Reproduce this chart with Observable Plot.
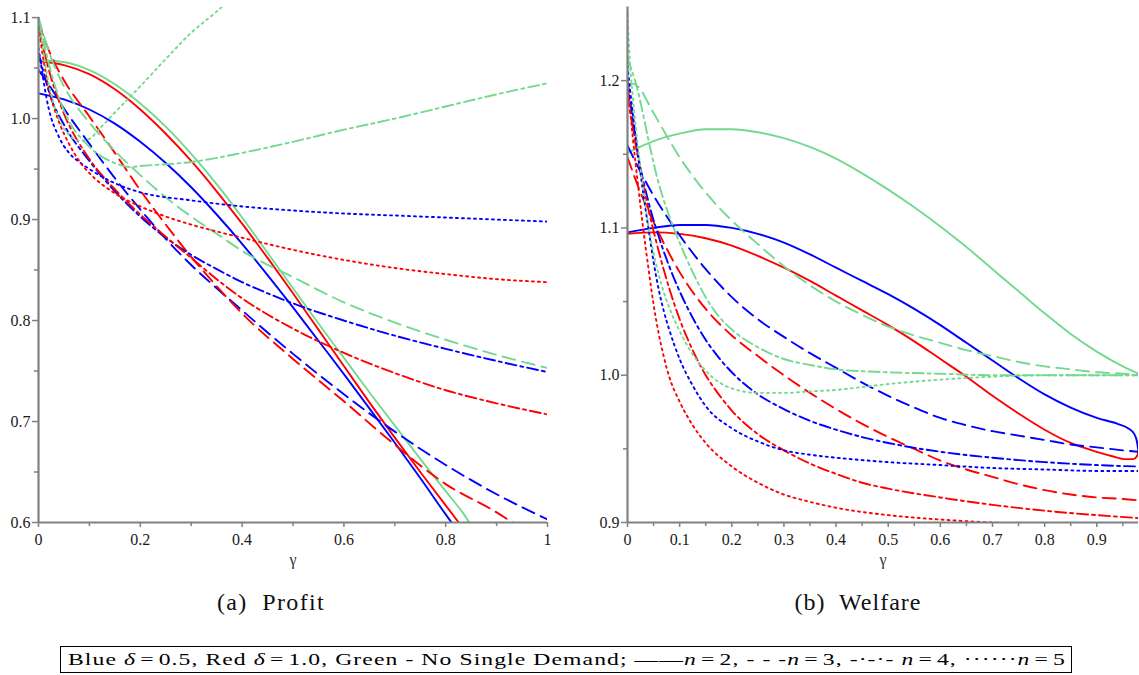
<!DOCTYPE html>
<html><head><meta charset="utf-8">
<script src="https://cdn.jsdelivr.net/npm/d3@7"></script>
<script src="https://cdn.jsdelivr.net/npm/@observablehq/plot@0.6"></script>
<style>
body{margin:0;background:#fff;width:1139px;height:675px;position:relative;overflow:hidden;font-family:"Liberation Serif",serif;}
#left{position:absolute;left:0;top:0}
#right{position:absolute;left:580px;top:0}
.cap{position:absolute;top:589px;font-size:24px;transform:translateX(-50%);white-space:nowrap;color:#111}
#legend{position:absolute;left:60px;top:646px;width:1010px;height:25px;border:1px solid #000;line-height:25px;white-space:nowrap;color:#000}
#legendText{position:absolute;left:7px;top:0;font-size:17.5px;letter-spacing:0.8px;transform-origin:0 50%}
.eq{margin:0 3px}
svg g[aria-label$="tick label"] text{font-size:16px}
</style></head><body>
<div id="left"></div><div id="right"></div>
<div class="cap" id="capA" style="left:271px">(a)&nbsp; Profit</div>
<div class="cap" id="capB" style="left:858px">(b)&nbsp; Welfare</div>
<div id="legend"><span id="legendText">Blue <i>δ</i><span class="eq">=</span>0.5, Red <i>δ</i><span class="eq">=</span>1.0, Green - No Single Demand; ——<i>n</i><span class="eq">=</span>2, - - -<i>n</i><span class="eq">=</span>3, -·-·- <i>n</i><span class="eq">=</span>4, ······<i>n</i><span class="eq">=</span>5</span></div>
<script>
// ---------- Profit (left) : [gamma, value] ----------
const pB2 = [[0,1.025],[0.05,1.019],[0.1,1.009],[0.15,0.995],[0.2,0.977],[0.25,0.956],[0.3,0.932],[0.35,0.905],[0.4,0.876],[0.45,0.845],[0.5,0.813],[0.55,0.78],[0.6,0.747],[0.65,0.713],[0.7,0.679],[0.75,0.644],[0.8,0.608],[0.82,0.594]];
const pR2 = [[0,1.057],[0.05,1.053],[0.1,1.044],[0.15,1.029],[0.2,1.009],[0.25,0.985],[0.3,0.958],[0.35,0.928],[0.4,0.896],[0.45,0.862],[0.5,0.827],[0.55,0.791],[0.6,0.755],[0.65,0.719],[0.7,0.684],[0.75,0.65],[0.8,0.617],[0.83,0.597]];
const pG2 = [[0,1.058],[0.05,1.056],[0.1,1.048],[0.15,1.034],[0.2,1.015],[0.25,0.992],[0.3,0.965],[0.35,0.935],[0.4,0.902],[0.45,0.867],[0.5,0.832],[0.55,0.797],[0.6,0.763],[0.65,0.729],[0.7,0.696],[0.75,0.663],[0.8,0.631],[0.84,0.605],[0.85,0.597]];
const pB3 = [[0,1.048],[0.025,1.03],[0.05,1.01],[0.1,0.975],[0.15,0.941],[0.2,0.91],[0.25,0.881],[0.3,0.855],[0.35,0.832],[0.4,0.81],[0.5,0.767],[0.6,0.727],[0.7,0.69],[0.8,0.657],[0.9,0.628],[1,0.603]];
const pR3 = [[0,1.095],[0.025,1.062],[0.05,1.038],[0.1,1.002],[0.15,0.966],[0.2,0.929],[0.25,0.895],[0.3,0.863],[0.35,0.834],[0.4,0.807],[0.5,0.762],[0.6,0.72],[0.7,0.677],[0.8,0.638],[0.9,0.61],[0.94,0.597]];
const pG3 = [[0,1.1],[0.025,1.06],[0.05,1.032],[0.1,0.996],[0.15,0.968],[0.2,0.944],[0.25,0.922],[0.3,0.903],[0.35,0.886],[0.4,0.869],[0.5,0.843],[0.6,0.818],[0.7,0.798],[0.8,0.781],[0.9,0.766],[1,0.753]];
const pB4 = [[0,1.065],[0.025,1.02],[0.05,0.994],[0.1,0.958],[0.15,0.928],[0.2,0.903],[0.25,0.882],[0.3,0.865],[0.35,0.851],[0.4,0.838],[0.45,0.827],[0.5,0.817],[0.6,0.8],[0.7,0.785],[0.8,0.772],[0.9,0.76],[1,0.749]];
const pR4 = [[0,1.09],[0.025,1.04],[0.05,1.005],[0.1,0.96],[0.15,0.93],[0.2,0.905],[0.25,0.883],[0.3,0.862],[0.35,0.841],[0.4,0.822],[0.45,0.806],[0.5,0.792],[0.6,0.768],[0.7,0.748],[0.8,0.731],[0.9,0.718],[1,0.707]];
const pG4 = [[0,1.1],[0.025,1.045],[0.05,1.008],[0.1,0.972],[0.15,0.956],[0.18,0.952],[0.2,0.953],[0.3,0.957],[0.4,0.966],[0.5,0.977],[0.6,0.989],[0.7,1.0],[0.8,1.012],[0.9,1.024],[1,1.035]];
const pB5 = [[0,1.07],[0.02,1.01],[0.04,0.982],[0.06,0.966],[0.08,0.957],[0.1,0.95],[0.15,0.936],[0.2,0.927],[0.3,0.919],[0.4,0.913],[0.5,0.909],[0.6,0.906],[0.7,0.904],[0.8,0.902],[0.9,0.9],[1,0.898]];
const pR5 = [[0,1.09],[0.02,1.03],[0.04,0.997],[0.06,0.975],[0.08,0.958],[0.1,0.946],[0.15,0.926],[0.2,0.913],[0.25,0.903],[0.3,0.895],[0.4,0.882],[0.5,0.87],[0.6,0.86],[0.7,0.852],[0.8,0.846],[0.9,0.841],[1,0.838]];
const pG5 = [[0,1.1],[0.02,1.035],[0.04,1.0],[0.06,0.984],[0.08,0.978],[0.1,0.98],[0.12,0.99],[0.15,1.006],[0.2,1.032],[0.25,1.059],[0.3,1.085],[0.35,1.106],[0.37,1.115]];

// ---------- Welfare (right) : [gamma, value] ----------
const wB2 = [[0,1.097],[0.05,1.1],[0.1,1.102],[0.15,1.102],[0.2,1.1],[0.25,1.096],[0.3,1.09],[0.35,1.082],[0.4,1.073],[0.45,1.064],[0.5,1.055],[0.55,1.045],[0.6,1.034],[0.65,1.022],[0.7,1.01],[0.75,0.998],[0.8,0.987],[0.85,0.978],[0.9,0.971],[0.94,0.967],[0.96,0.964],[0.972,0.96],[0.977,0.955],[0.98,0.948]];
const wR2 = [[0,1.096],[0.05,1.097],[0.1,1.096],[0.15,1.093],[0.2,1.088],[0.25,1.081],[0.3,1.073],[0.35,1.064],[0.4,1.054],[0.45,1.044],[0.5,1.034],[0.55,1.023],[0.6,1.011],[0.65,0.999],[0.7,0.986],[0.75,0.974],[0.8,0.963],[0.85,0.954],[0.9,0.948],[0.93,0.945],[0.955,0.943],[0.97,0.943],[0.977,0.945],[0.98,0.948]];
const wG2 = [[0,1.151],[0.05,1.159],[0.1,1.164],[0.15,1.167],[0.2,1.167],[0.25,1.165],[0.3,1.161],[0.35,1.155],[0.4,1.147],[0.45,1.137],[0.5,1.126],[0.55,1.114],[0.6,1.101],[0.65,1.087],[0.7,1.072],[0.75,1.057],[0.8,1.042],[0.85,1.028],[0.9,1.016],[0.95,1.006],[0.98,1.001]];
const wB3 = [[0,1.156],[0.025,1.138],[0.05,1.122],[0.075,1.108],[0.1,1.095],[0.15,1.072],[0.2,1.053],[0.25,1.038],[0.3,1.026],[0.35,1.015],[0.4,1.005],[0.45,0.995],[0.5,0.986],[0.55,0.978],[0.6,0.971],[0.65,0.966],[0.7,0.962],[0.75,0.959],[0.8,0.956],[0.85,0.953],[0.9,0.951],[0.95,0.949],[0.98,0.948]];
const wR3 = [[0,1.148],[0.025,1.124],[0.05,1.104],[0.075,1.086],[0.1,1.07],[0.15,1.045],[0.2,1.027],[0.25,1.013],[0.3,1.0],[0.35,0.988],[0.4,0.977],[0.45,0.967],[0.5,0.958],[0.55,0.95],[0.6,0.942],[0.65,0.936],[0.7,0.931],[0.75,0.926],[0.8,0.922],[0.85,0.919],[0.9,0.917],[0.95,0.916],[0.98,0.915]];
const wG3 = [[0,1.196],[0.01,1.198],[0.02,1.196],[0.05,1.178],[0.1,1.148],[0.15,1.124],[0.2,1.105],[0.25,1.089],[0.3,1.074],[0.35,1.061],[0.4,1.05],[0.45,1.041],[0.5,1.033],[0.55,1.027],[0.6,1.022],[0.65,1.017],[0.7,1.013],[0.75,1.009],[0.8,1.006],[0.85,1.004],[0.9,1.002],[0.95,1.001],[0.98,1.0]];
const wB4 = [[0,1.2],[0.02,1.15],[0.04,1.118],[0.06,1.094],[0.08,1.074],[0.1,1.057],[0.125,1.039],[0.15,1.024],[0.175,1.012],[0.2,1.002],[0.25,0.987],[0.3,0.977],[0.35,0.969],[0.4,0.963],[0.45,0.958],[0.5,0.954],[0.6,0.948],[0.7,0.944],[0.8,0.941],[0.9,0.939],[0.98,0.938]];
const wR4 = [[0,1.19],[0.02,1.148],[0.04,1.113],[0.06,1.084],[0.08,1.059],[0.1,1.038],[0.125,1.017],[0.15,1.0],[0.175,0.987],[0.2,0.976],[0.25,0.96],[0.3,0.949],[0.35,0.94],[0.4,0.933],[0.45,0.927],[0.5,0.923],[0.6,0.917],[0.7,0.912],[0.8,0.908],[0.9,0.905],[0.98,0.903]];
const wG4 = [[0,1.215],[0.01,1.205],[0.02,1.193],[0.03,1.177],[0.04,1.16],[0.06,1.13],[0.08,1.108],[0.1,1.09],[0.125,1.07],[0.15,1.053],[0.175,1.04],[0.2,1.031],[0.25,1.019],[0.3,1.011],[0.35,1.007],[0.4,1.004],[0.5,1.002],[0.6,1.001],[0.7,1.0],[0.98,1.0]];
const wB5 = [[0,1.21],[0.01,1.178],[0.02,1.15],[0.03,1.124],[0.04,1.1],[0.05,1.077],[0.06,1.058],[0.07,1.043],[0.08,1.031],[0.1,1.011],[0.125,0.993],[0.15,0.979],[0.2,0.964],[0.25,0.955],[0.3,0.949],[0.35,0.946],[0.4,0.944],[0.5,0.941],[0.6,0.939],[0.7,0.937],[0.8,0.936],[0.9,0.935],[0.98,0.935]];
const wR5 = [[0,1.2],[0.01,1.162],[0.02,1.13],[0.03,1.1],[0.04,1.073],[0.05,1.048],[0.06,1.028],[0.07,1.012],[0.08,0.999],[0.1,0.982],[0.125,0.966],[0.15,0.954],[0.2,0.938],[0.25,0.927],[0.3,0.919],[0.35,0.914],[0.4,0.91],[0.5,0.905],[0.6,0.902],[0.7,0.9],[0.8,0.899],[0.9,0.898],[0.98,0.897]];
const wG5 = [[0,1.245],[0.005,1.21],[0.01,1.19],[0.02,1.155],[0.03,1.127],[0.04,1.102],[0.05,1.083],[0.06,1.068],[0.08,1.046],[0.1,1.03],[0.12,1.017],[0.15,1.003],[0.2,0.991],[0.25,0.988],[0.3,0.988],[0.35,0.989],[0.4,0.99],[0.45,0.992],[0.5,0.994],[0.6,0.997],[0.7,0.999],[0.8,1.0],[0.98,1.0]];

// ---------- ticks ----------
const pXTicks = [0,0.2,0.4,0.6,0.8,1];
const pXMinor = [0.1,0.3,0.5,0.7,0.9];
const pYTicks = [0.6,0.7,0.8,0.9,1.0,1.1];
const pYMinor = [0.65,0.75,0.85,0.95,1.05];
const wXTicks = [0,0.1,0.2,0.3,0.4,0.5,0.6,0.7,0.8,0.9];
const wXMinor = [0.05,0.15,0.25,0.35,0.45,0.55,0.65,0.75,0.85,0.95];
const wYTicks = [0.9,1.0,1.1,1.2];
const wYMinor = [0.95,1.05,1.15];

const colors = {B:"#0000ff", R:"#ff0000", G:"#74d98f"};
const dashes = {2:null, 3:"13,7", 4:"11,4,3,4", 5:"2,4"};

function series(obj){
  return Object.entries(obj).map(([k,data]) => ({data, color: colors[k[1]], dash: dashes[k[2]]}));
}

function chart({list, xDomain, yDomain, yAxisTop, xTicks, xMinor, yTicks, yMinor, xFmt, yFmt, width, marginLeft, marginRight, marginTop}){
  const marks = [];
  for (const s of list) {
    marks.push(Plot.line(s.data, {x: d => d[0], y: d => d[1], stroke: s.color, strokeWidth: 1.9,
      strokeDasharray: s.dash, curve: "monotone-x", clip: true}));
  }
  const ax = "#808080";
  marks.push(Plot.ruleX([0], {y1: yDomain[0], y2: yAxisTop, stroke: ax, strokeWidth: 2.2}));
  marks.push(Plot.ruleY([yDomain[0]], {stroke: ax, strokeWidth: 2.2}));
  marks.push(Plot.axisX(xTicks, {tickSize: 5, tickPadding: 6, tickFormat: xFmt, stroke: ax, strokeWidth: 1.5, fill: "#1a1a1a", fontSize: 16, label: null}));
  marks.push(Plot.axisX(xMinor, {tickSize: 4, tickFormat: () => "", stroke: ax, strokeWidth: 1.5, label: null}));
  marks.push(Plot.axisY(yTicks, {tickSize: 6, tickPadding: 2, tickFormat: yFmt, stroke: ax, strokeWidth: 1.5, fill: "#1a1a1a", fontSize: 16, label: null}));
  marks.push(Plot.axisY(yMinor, {tickSize: 4, tickFormat: () => "", stroke: ax, strokeWidth: 1.5, label: null}));
  marks.push(Plot.text(["γ"], {frameAnchor: "bottom", dy: 42, text: d => d, fontSize: 16, fill: "#333"}));
  return Plot.plot({
    width, height: 580, marginLeft, marginRight, marginTop, marginBottom: 58,
    x: {domain: xDomain}, y: {domain: yDomain},
    style: {fontFamily: "Liberation Serif, serif", fontSize: "16px", background: "white", color: "#1a1a1a"},
    marks
  });
}

const left = chart({
  list: series({pB2,pR2,pG2,pB3,pR3,pG3,pB4,pR4,pG4,pB5,pR5,pG5}),
  xDomain: [0,1], yDomain: [0.6,1.11], yAxisTop: 1.1,
  xTicks: pXTicks, xMinor: pXMinor, yTicks: pYTicks, yMinor: pYMinor,
  xFmt: d => d === 0 ? "0" : d === 1 ? "1" : d.toFixed(1), yFmt: d => d.toFixed(1),
  width: 560, marginLeft: 38, marginRight: 13, marginTop: 7
});
document.getElementById("left").append(left);

const right = chart({
  list: series({wB2,wR2,wG2,wB3,wR3,wG3,wB4,wR4,wG4,wB5,wR5,wG5}),
  xDomain: [0,0.98], yDomain: [0.9,1.25], yAxisTop: 1.25,
  xTicks: wXTicks, xMinor: wXMinor, yTicks: wYTicks, yMinor: wYMinor,
  xFmt: d => d === 0 ? "0" : d.toFixed(1), yFmt: d => d.toFixed(1),
  width: 559, marginLeft: 47, marginRight: 1, marginTop: 6.5
});
document.getElementById("right").append(right);

// fit text widths to the reference layout
function fit(id, target){
  const el = document.getElementById(id);
  const w = el.getBoundingClientRect().width;
  const n = el.textContent.length;
  el.style.letterSpacing = ((target - w) / n) + "px";
}
fit("capA", 108);
fit("capB", 127);
const lg = document.getElementById("legendText");
const lw = lg.getBoundingClientRect().width;
lg.style.transform = `scaleX(${998 / lw})`;
</script>
</body></html>
